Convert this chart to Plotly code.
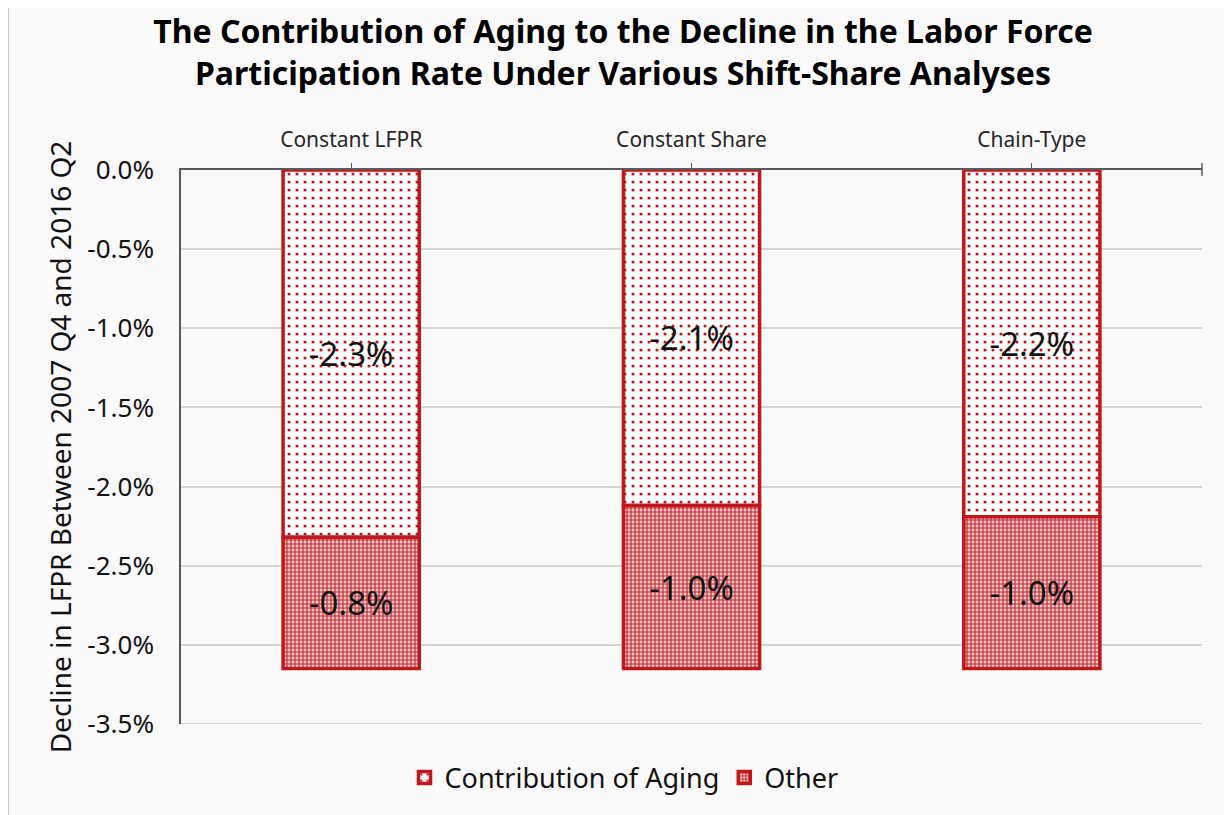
import plotly.graph_objects as go

categories = ["Constant LFPR", "Constant Share", "Chain-Type"]
aging = [-2.32, -2.12, -2.19]
other = [-0.83, -1.03, -0.96]
aging_labels = ["-2.3%", "-2.1%", "-2.2%"]
other_labels = ["-0.8%", "-1.0%", "-1.0%"]
y_tickvals = [0.0, -0.5, -1.0, -1.5, -2.0, -2.5, -3.0, -3.5]
y_ticktext = ["0.0%", "-0.5%", "-1.0%", "-1.5%", "-2.0%", "-2.5%", "-3.0%", "-3.5%"]

RED = "#c0171d"
FONT = "Noto Sans"

fig = go.Figure()
fig.add_trace(go.Bar(
    x=categories, y=aging, name="Contribution of Aging",
    text=aging_labels, textposition="inside", insidetextanchor="middle",
    textfont=dict(size=33, color="#111111", family=FONT),
    marker=dict(color="white", line=dict(color=RED, width=3.5),
                pattern=dict(shape=".", fgcolor=RED, bgcolor="white", size=8, solidity=0.12, fillmode="replace")),
    width=0.4,
))
fig.add_trace(go.Bar(
    x=categories, y=other, name="Other",
    text=other_labels, textposition="inside", insidetextanchor="middle",
    textfont=dict(size=33, color="#111111", family=FONT),
    marker=dict(color="white", line=dict(color=RED, width=3.5),
                pattern=dict(shape="+", fgcolor="#c42a30", bgcolor="#efc9cb", size=4, solidity=0.5, fillmode="replace")),
    width=0.4,
))

# page is offset by the 8px body margin
OFF = 8
W, H = 1232 - OFF, 815 - OFF
L, R, T, B = 181 - OFF, 30, 170 - OFF, 91
pw, ph = W - L - R, H - T - B

def py(p):
    # page y pixel -> paper y
    return (H - B - (p - OFF)) / ph

fig.update_layout(
    barmode="relative",
    width=W, height=H,
    margin=dict(l=L, r=R, t=T, b=B, pad=0),
    paper_bgcolor="#fafafa",
    plot_bgcolor="#fafafa",
    font=dict(family=FONT, color="#111111"),
    title=dict(
        text="<b>The Contribution of Aging to the Decline in the Labor Force<br>Participation Rate Under Various Shift-Share Analyses</b>",
        x=(623 - OFF) / W, xanchor="center", xref="container",
        y=1 - (43 - OFF) / H, yanchor="middle", yref="container",
        font=dict(size=32, family=FONT, color="#000000"),
    ),
    showlegend=True,
    legend=dict(orientation="h", x=(624 - OFF - L) / pw, xanchor="center", y=py(778), yanchor="middle",
                font=dict(size=27, family=FONT, color="#111111"), bgcolor="rgba(0,0,0,0)",
                traceorder="normal"),
    xaxis=dict(
        side="top", showline=True, linecolor="#595959", linewidth=1.5,
        ticks="outside", ticklen=5, tickcolor="#595959",
        tickfont=dict(size=21, family=FONT, color="#262626"),
        ticklabelstandoff=8,
        showgrid=False, zeroline=False, mirror=False,
    ),
    yaxis=dict(
        range=[-3.5, 0], tickvals=y_tickvals, ticktext=y_ticktext,
        tickfont=dict(size=26, family=FONT, color="#111111"),
        showline=True, linecolor="#595959", linewidth=1.5,
        showgrid=True, gridcolor="#d4d4d4", gridwidth=1.5,
        zeroline=False, ticks="", ticklabelstandoff=20,
        title=dict(text="Decline in LFPR Between 2007 Q4 and 2016 Q2",
                   font=dict(size=28, family=FONT, color="#111111"), standoff=8),
    ),
    shapes=[
        dict(type="line", xref="paper", yref="paper",
             x0=-L / pw, x1=-L / pw, y0=py(815), y1=py(5),
             line=dict(color="#c8c8c8", width=2)),
        dict(type="line", xref="paper", yref="paper",
             x0=1, x1=1, y0=py(176), y1=py(163),
             line=dict(color="#595959", width=1.5)),
        dict(type="line", xref="paper", yref="y", layer="below",
             x0=0, x1=1, y0=-3.5, y1=-3.5,
             line=dict(color="#d4d4d4", width=2)),
    ],
)

fig.write_html("out.html")
